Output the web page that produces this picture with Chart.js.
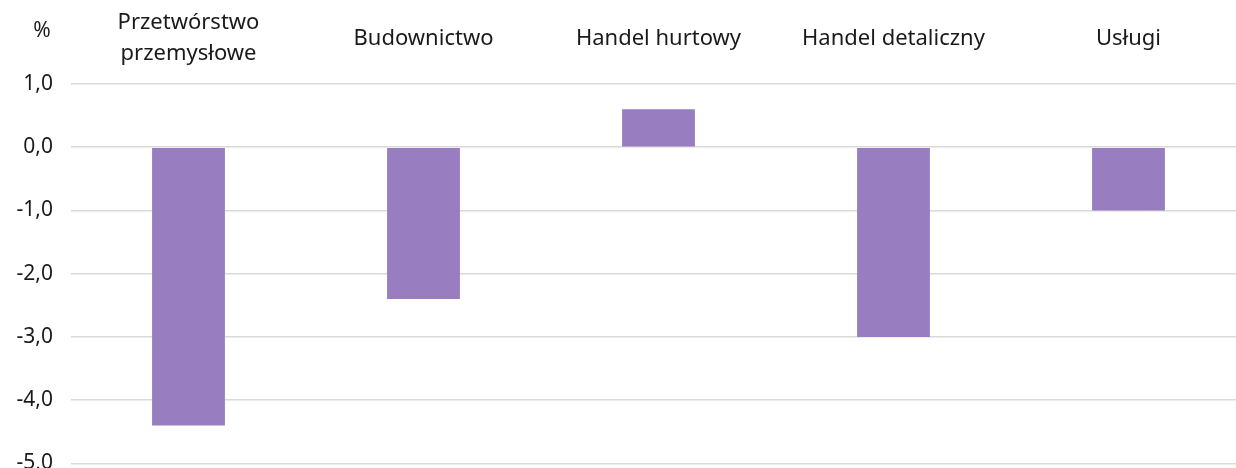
<!DOCTYPE html>
<html>
<head>
<meta charset="utf-8">
<script src="https://cdn.jsdelivr.net/npm/chart.js@4"></script>
<style>
  html, body { margin: 0; padding: 0; background: #fff; overflow: hidden; }
  #wrap { width: 1250px; height: 494px; }
</style>
</head>
<body>
<div id="wrap"><canvas id="sectorChart" width="1250" height="494"></canvas></div>
<script>
// kategorie i wartości (%)
const categories = [["Przetwórstwo", "przemysłowe"], "Budownictwo", "Handel hurtowy", "Handel detaliczny", "Usługi"];
const values = [-4.4, -2.4, 0.6, -3.0, -1.0];
const yMin = -5;
const yMax = 1;
const unitLabel = "%";

const FONT = "'Noto Sans', 'Open Sans', sans-serif";

// napis "%" nad osią Y
const unitPlugin = {
    id: "unitPlugin",
    afterDraw(chart) {
        const ctx = chart.ctx;
        ctx.save();
        ctx.font = "21px " + FONT;
        ctx.fillStyle = "#1a1a1a";
        ctx.textAlign = "center";
        ctx.textBaseline = "middle";
        ctx.fillText(unitLabel, 42, 31);
        ctx.restore();
    }
};

new Chart(document.getElementById("sectorChart").getContext("2d"), {
    type: "bar",
    data: {
        labels: categories,
        datasets: [
            {
                data: values,
                backgroundColor: "#987dc0",
                borderWidth: 0,
                barPercentage: 0.31,
                categoryPercentage: 1.0
            }
        ]
    },
    options: {
        responsive: false,
        animation: false,
        devicePixelRatio: 1,
        layout: { padding: { top: 0, right: 4, bottom: 4, left: 0 } },
        scales: {
            x: {
                position: "top",
                grid: { display: false, drawTicks: false },
                border: { display: false },
                ticks: {
                    color: "#1a1a1a",
                    font: { family: FONT, size: 22, lineHeight: 1.42 },
                    padding: 30,
                    maxRotation: 0,
                    autoSkip: false,
                    crossAlign: "center"
                },
                afterFit(scale) { scale.height = 84; }
            },
            y: {
                min: yMin,
                max: yMax,
                grid: { color: "#d9d9d9", lineWidth: 1.5, drawTicks: false },
                border: { display: false },
                ticks: {
                    stepSize: 1,
                    color: "#1a1a1a",
                    font: { family: FONT, size: 21 },
                    padding: 18,
                    callback: (v) => v.toFixed(1).replace(".", ",")
                },
                afterFit(scale) { scale.width = 71; }
            }
        },
        plugins: {
            legend: { display: false },
            tooltip: { enabled: false }
        }
    },
    plugins: [unitPlugin]
});
</script>
</body>
</html>
